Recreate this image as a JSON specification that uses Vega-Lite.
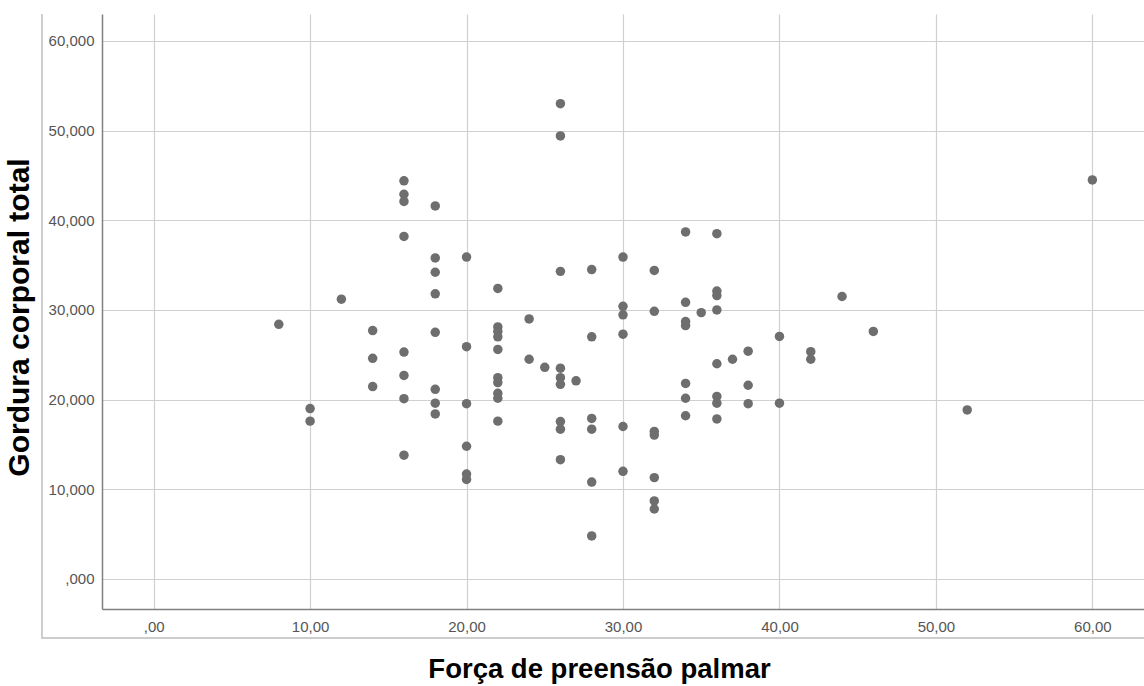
{
  "$schema": "https://vega.github.io/schema/vega-lite/v6.json",
  "width": 1042,
  "height": 595,
  "autosize": {"type": "none"},
  "padding": {"left": 102, "top": 14, "right": 0, "bottom": 77},
  "background": "white",
  "config": {
    "view": {"stroke": null},
    "font": "Liberation Sans"
  },
  "data": {
    "values": [
      {"forca": 8, "gordura": 28.4},
      {"forca": 10, "gordura": 19.0},
      {"forca": 10, "gordura": 17.6},
      {"forca": 12, "gordura": 31.2},
      {"forca": 14, "gordura": 27.7},
      {"forca": 14, "gordura": 24.6},
      {"forca": 14, "gordura": 21.45},
      {"forca": 16, "gordura": 44.4},
      {"forca": 16, "gordura": 42.9},
      {"forca": 16, "gordura": 42.1},
      {"forca": 16, "gordura": 38.2},
      {"forca": 16, "gordura": 25.3},
      {"forca": 16, "gordura": 22.7},
      {"forca": 16, "gordura": 20.1},
      {"forca": 16, "gordura": 13.8},
      {"forca": 18, "gordura": 41.6},
      {"forca": 18, "gordura": 35.8},
      {"forca": 18, "gordura": 34.2},
      {"forca": 18, "gordura": 31.8},
      {"forca": 18, "gordura": 27.5},
      {"forca": 18, "gordura": 21.15},
      {"forca": 18, "gordura": 19.6},
      {"forca": 18, "gordura": 18.4},
      {"forca": 20, "gordura": 35.9},
      {"forca": 20, "gordura": 25.9},
      {"forca": 20, "gordura": 19.55},
      {"forca": 20, "gordura": 14.8},
      {"forca": 20, "gordura": 11.7},
      {"forca": 20, "gordura": 11.1},
      {"forca": 22, "gordura": 32.4},
      {"forca": 22, "gordura": 28.1},
      {"forca": 22, "gordura": 27.6},
      {"forca": 22, "gordura": 27.0},
      {"forca": 22, "gordura": 25.6},
      {"forca": 22, "gordura": 22.45},
      {"forca": 22, "gordura": 21.9},
      {"forca": 22, "gordura": 20.7},
      {"forca": 22, "gordura": 20.15},
      {"forca": 22, "gordura": 17.6},
      {"forca": 24, "gordura": 29.0},
      {"forca": 24, "gordura": 24.5},
      {"forca": 25, "gordura": 23.6},
      {"forca": 26, "gordura": 53.0},
      {"forca": 26, "gordura": 49.4},
      {"forca": 26, "gordura": 34.3},
      {"forca": 26, "gordura": 23.5},
      {"forca": 26, "gordura": 22.45},
      {"forca": 26, "gordura": 21.7},
      {"forca": 26, "gordura": 17.55},
      {"forca": 26, "gordura": 16.7},
      {"forca": 26, "gordura": 13.3},
      {"forca": 27, "gordura": 22.1},
      {"forca": 28, "gordura": 34.5},
      {"forca": 28, "gordura": 27.0},
      {"forca": 28, "gordura": 17.9},
      {"forca": 28, "gordura": 16.7},
      {"forca": 28, "gordura": 10.8},
      {"forca": 28, "gordura": 4.8},
      {"forca": 30, "gordura": 35.9},
      {"forca": 30, "gordura": 30.4},
      {"forca": 30, "gordura": 29.45},
      {"forca": 30, "gordura": 27.3},
      {"forca": 30, "gordura": 17.0},
      {"forca": 30, "gordura": 12.0},
      {"forca": 32, "gordura": 34.4},
      {"forca": 32, "gordura": 29.85},
      {"forca": 32, "gordura": 16.45},
      {"forca": 32, "gordura": 16.05},
      {"forca": 32, "gordura": 11.3},
      {"forca": 32, "gordura": 8.7},
      {"forca": 32, "gordura": 7.8},
      {"forca": 34, "gordura": 38.7},
      {"forca": 34, "gordura": 30.85},
      {"forca": 34, "gordura": 28.7},
      {"forca": 34, "gordura": 28.25},
      {"forca": 34, "gordura": 21.8},
      {"forca": 34, "gordura": 20.15},
      {"forca": 34, "gordura": 18.2},
      {"forca": 35, "gordura": 29.7},
      {"forca": 36, "gordura": 38.5},
      {"forca": 36, "gordura": 32.1},
      {"forca": 36, "gordura": 31.6},
      {"forca": 36, "gordura": 30.0},
      {"forca": 36, "gordura": 24.0},
      {"forca": 36, "gordura": 20.35},
      {"forca": 36, "gordura": 19.6},
      {"forca": 36, "gordura": 17.85},
      {"forca": 37, "gordura": 24.5},
      {"forca": 38, "gordura": 25.4},
      {"forca": 38, "gordura": 21.6},
      {"forca": 38, "gordura": 19.55},
      {"forca": 40, "gordura": 27.05},
      {"forca": 40, "gordura": 19.6},
      {"forca": 42, "gordura": 25.35},
      {"forca": 42, "gordura": 24.5},
      {"forca": 44, "gordura": 31.5},
      {"forca": 46, "gordura": 27.6},
      {"forca": 52, "gordura": 18.85},
      {"forca": 60, "gordura": 44.5}
    ]
  },
  "layer": [
    {
      "mark": {"type": "rule", "color": "#cccccc", "strokeWidth": 1.2},
      "encoding": {
        "x": {"datum": -7.16, "type": "quantitative", "scale": {"domain": [-3.3, 63.3], "nice": false, "zero": false}},
        "y": {"datum": -6.59, "type": "quantitative", "scale": {"domain": [-3.35, 63.0], "nice": false, "zero": false}},
        "y2": {"datum": 63.0}
      }
    },
    {
      "mark": {"type": "rule", "color": "#cccccc", "strokeWidth": 1.2},
      "encoding": {
        "x": {"datum": -7.16, "type": "quantitative"},
        "x2": {"datum": 63.3},
        "y": {"datum": -6.59, "type": "quantitative"}
      }
    },
    {
      "mark": {"type": "circle", "size": 90, "color": "#6e6e6e", "opacity": 1},
      "encoding": {
        "x": {
          "field": "forca",
          "type": "quantitative",
          "scale": {"domain": [-3.3, 63.3], "nice": false, "zero": false},
          "axis": {
            "title": "Força de preensão palmar",
            "values": [0, 10, 20, 30, 40, 50, 60],
            "labelExpr": "datum.value == 0 ? ',00' : datum.value + ',00'",
            "labelFontSize": 15,
            "labelColor": "#555555",
            "labelPadding": 10,
            "ticks": false,
            "domainColor": "#808080",
            "domainWidth": 1.5,
            "grid": true,
            "gridColor": "#d0d0d0",
            "gridWidth": 1.2,
            "titleFontSize": 27.5,
            "titleFontWeight": "bold",
            "titleColor": "#000000",
            "titleX": 497,
            "titleY": 68,
            "titleBaseline": "alphabetic",
            "titleAlign": "center"
          }
        },
        "y": {
          "field": "gordura",
          "type": "quantitative",
          "scale": {"domain": [-3.35, 63.0], "nice": false, "zero": false},
          "axis": {
            "title": "Gordura corporal total",
            "values": [0, 10, 20, 30, 40, 50, 60],
            "labelExpr": "datum.value == 0 ? ',000' : datum.value + ',000'",
            "labelFontSize": 15,
            "labelColor": "#555555",
            "labelPadding": 8,
            "ticks": false,
            "domainColor": "#808080",
            "domainWidth": 1.5,
            "grid": true,
            "gridColor": "#d0d0d0",
            "gridWidth": 1.2,
            "titleFontSize": 30,
            "titleFontWeight": "bold",
            "titleColor": "#000000",
            "titleAngle": -90,
            "titleX": -68,
            "titleY": 303,
            "titleBaseline": "bottom",
            "titleAlign": "center"
          }
        }
      }
    }
  ]
}
